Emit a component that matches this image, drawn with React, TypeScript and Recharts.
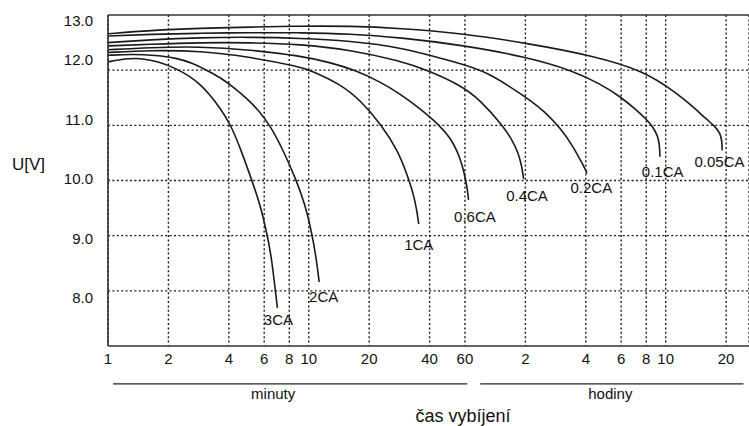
import React from "react";
import {
  LineChart,
  Line,
  XAxis,
  YAxis,
  CartesianGrid,
  ReferenceLine,
} from "recharts";

// ---- data (time in minutes, voltage in V) ----
const T_3CA = [1, 1.22, 1.44, 1.78, 2.18, 2.56, 2.88, 3.23, 3.62, 4.09, 4.6, 5.2, 5.73, 6.18, 6.49, 6.72, 6.98];
const V_3CA = [12.15, 12.21, 12.22, 12.16, 12.03, 11.89, 11.74, 11.55, 11.31, 11.01, 10.55, 10.01, 9.56, 9.05, 8.65, 8.2, 7.69];

const T_2CA = [1, 1.33, 1.72, 2.2, 2.62, 3.1, 3.62, 4.21, 4.91, 5.6, 6.42, 7.46, 8.66, 9.6, 10.36, 10.89, 11.27];
const V_2CA = [12.27, 12.29, 12.27, 12.22, 12.13, 12.0, 11.87, 11.69, 11.49, 11.28, 11.0, 10.55, 10.01, 9.56, 9.05, 8.6, 8.16];

const T_1CA = [1, 1.62, 2.88, 5.1, 9.06, 10.16, 14.34, 18.04, 23.14, 27.91, 30.94, 33.15, 34.51, 35.31];
const V_1CA = [12.32, 12.36, 12.35, 12.24, 12.06, 12.0, 11.75, 11.46, 11.0, 10.53, 10.1, 9.77, 9.47, 9.21];

const T_06CA = [1, 1.62, 2.88, 5.1, 9.06, 12.79, 17.03, 22.69, 28.55, 35.92, 45.19, 50.68, 54.72, 58.17, 60.56, 61.96, 62.53];
const V_06CA = [12.37, 12.41, 12.43, 12.37, 12.26, 12.14, 12.0, 11.79, 11.57, 11.3, 10.99, 10.77, 10.55, 10.28, 10.01, 9.79, 9.65];

const T_04CA = [1, 1.62, 2.88, 5.1, 9.06, 16.09, 28.55, 38.93, 56.85, 71.53, 93.13, 103.3, 110.6, 115.2, 117.6];
const V_04CA = [12.44, 12.47, 12.5, 12.5, 12.47, 12.37, 12.17, 12.0, 11.73, 11.46, 10.98, 10.73, 10.5, 10.26, 10.03];

const T_02CA = [1, 1.62, 2.88, 5.1, 9.06, 16.09, 28.55, 56.85, 75.76, 122.3, 150.8, 179.2, 205.6, 225.4, 236, 243.4];
const V_02CA = [12.5, 12.55, 12.59, 12.6, 12.58, 12.53, 12.42, 12.12, 11.99, 11.5, 11.24, 10.95, 10.64, 10.37, 10.24, 10.13];

const T_01CA = [1, 1.62, 2.88, 5.1, 9.06, 16.09, 28.55, 56.85, 122.3, 208, 283.6, 356.8, 428.7, 484.6, 521.1, 548, 558.3, 562];
const V_01CA = [12.62, 12.65, 12.67, 12.68, 12.68, 12.66, 12.59, 12.46, 12.24, 11.99, 11.75, 11.52, 11.28, 11.1, 10.96, 10.8, 10.66, 10.43];

const T_005CA = [1, 1.62, 2.88, 5.1, 9.06, 16.09, 28.55, 56.85, 122.3, 262.6, 466.1, 683.9, 824.7, 965.2, 1049, 1124, 1144, 1147];
const V_005CA = [12.66, 12.72, 12.76, 12.78, 12.8, 12.8, 12.76, 12.67, 12.49, 12.26, 11.99, 11.58, 11.33, 11.1, 10.99, 10.86, 10.7, 10.55];

const SERIES_NAMES = ["3CA", "2CA", "1CA", "0.6CA", "0.4CA", "0.2CA", "0.1CA", "0.05CA"];
const SERIES_T = [T_3CA, T_2CA, T_1CA, T_06CA, T_04CA, T_02CA, T_01CA, T_005CA];
const SERIES_V = [V_3CA, V_2CA, V_1CA, V_06CA, V_04CA, V_02CA, V_01CA, V_005CA];

const X_TICKS = [1, 2, 4, 6, 8, 10, 20, 40, 60, 120, 240, 360, 480, 600, 1200];
const Y_GRID = [8, 9, 10, 11, 12];
const Y_LABELS = [8, 9, 10, 11, 12];
const X_DOMAIN = [1, 1560];
const Y_DOMAIN = [7, 13];
const Y_LABEL_DOMAIN = [7.193, 12.756];

// annotation segments (in data space)
const MINUTY_RANGE = [1.06, 61.6];
const HODINY_RANGE = [71.5, 1464];
const GROUP_LINE_V = 6.312;

// ---- styles ----
const FONT = "'Liberation Sans', Arial, Helvetica, sans-serif";
const INK = "#1a1a1a";
const GRID_STYLE = { stroke: "#1a1a1a", strokeWidth: 1.4, strokeDasharray: "2 2.4" };
const LABEL_OFFSETS: Record<string, [number, number]> = {
  "3CA": [1, 17],
  "2CA": [4.5, 20],
  "1CA": [0, 26],
  "0.6CA": [6.4, 21.7],
  "0.4CA": [3.4, 22],
  "0.2CA": [4.3, 19.7],
  "0.1CA": [2.7, 20],
  "0.05CA": [-2.7, 16.7],
};

const makeEndLabel = (name: string, n: number) => {
  const [dx, dy] = LABEL_OFFSETS[name];
  return (props: any) => {
    const x = props.x ?? props.viewBox?.x;
    const y = props.y ?? props.viewBox?.y;
    if (props.index !== n - 1 || x == null || y == null) return null;
    return (
      <text
        x={x + dx}
        y={y + dy}
        textAnchor="middle"
        fontSize={15}
        fontFamily={FONT}
        fill="#111"
      >
        {name}
      </text>
    );
  };
};

export default function App() {
  const series = SERIES_NAMES.map((name, i) => ({
    name,
    data: SERIES_T[i].map((t, j) => ({ t, v: SERIES_V[i][j] })),
  }));

  return (
    <div style={{ position: "absolute", left: 0, top: 0, background: "#fff" }}>
      <LineChart
        width={749}
        height={426}
        margin={{ top: 15, right: 0, bottom: 0, left: 0 }}
        style={{ fontFamily: FONT }}
      >
        <CartesianGrid horizontal={false} {...GRID_STYLE} />
        <XAxis
          dataKey="t"
          type="number"
          scale="log"
          domain={X_DOMAIN}
          allowDataOverflow
          ticks={X_TICKS}
          interval={0}
          tickFormatter={(v: number) => (v > 60 ? String(v / 60) : String(v))}
          tickLine={false}
          tickSize={6}
          tickMargin={1}
          axisLine={{ stroke: "#333", strokeWidth: 1.6 }}
          tick={{ fontSize: 15, fill: "#111", fontFamily: FONT }}
          height={80}
          label={{
            value: "čas vybíjení",
            position: "insideBottom",
            offset: 4,
            dx: 34.5,
            fontSize: 18,
            fill: "#111",
            fontFamily: FONT,
          }}
        />
        <YAxis
          type="number"
          domain={Y_DOMAIN}
          allowDataOverflow
          ticks={Y_GRID}
          width={0}
          tick={false}
          tickLine={false}
          axisLine={false}
        />
        <YAxis
          yAxisId="lbl"
          type="number"
          domain={Y_LABEL_DOMAIN}
          allowDataOverflow
          ticks={Y_LABELS}
          interval={0}
          width={108}
          tickFormatter={(v: number) => v.toFixed(1)}
          tickLine={false}
          tickSize={6}
          tickMargin={9}
          axisLine={{ stroke: "#333", strokeWidth: 1.6 }}
          tick={{ fontSize: 15, fill: "#111", fontFamily: FONT }}
          label={{
            value: "U[V]",
            position: "insideLeft",
            offset: 12,
            dy: -17,
            angle: 0,
            fontSize: 17,
            fill: "#111",
            fontFamily: FONT,
          }}
        />
        {Y_GRID.map((v) => (
          <ReferenceLine key={`g${v}`} y={v} {...GRID_STYLE} />
        ))}
        <ReferenceLine
          y={13}
          stroke="#333"
          strokeWidth={1.6}
          label={{
            value: "13.0",
            position: "left",
            offset: 15,
            dy: 6,
            fontSize: 15,
            fill: "#111",
            fontFamily: FONT,
          }}
        />
        <ReferenceLine
          segment={[
            { x: MINUTY_RANGE[0], y: GROUP_LINE_V },
            { x: MINUTY_RANGE[1], y: GROUP_LINE_V },
          ]}
          ifOverflow="visible"
          stroke="#222"
          strokeWidth={1.3}
          label={{
            value: "minuty",
            position: "bottom",
            offset: 4,
            dx: -17,
            fontSize: 15,
            fill: "#111",
            fontFamily: FONT,
          }}
        />
        <ReferenceLine
          segment={[
            { x: HODINY_RANGE[0], y: GROUP_LINE_V },
            { x: HODINY_RANGE[1], y: GROUP_LINE_V },
          ]}
          ifOverflow="visible"
          stroke="#222"
          strokeWidth={1.3}
          label={{
            value: "hodiny",
            position: "bottom",
            offset: 4,
            dx: -1.5,
            fontSize: 15,
            fill: "#111",
            fontFamily: FONT,
          }}
        />
        {series.map((s) => (
          <Line
            key={s.name}
            data={s.data}
            dataKey="v"
            type="basis"
            stroke={INK}
            strokeWidth={1.6}
            dot={false}
            activeDot={false}
            isAnimationActive={false}
            label={makeEndLabel(s.name, s.data.length)}
          />
        ))}
      </LineChart>
    </div>
  );
}
